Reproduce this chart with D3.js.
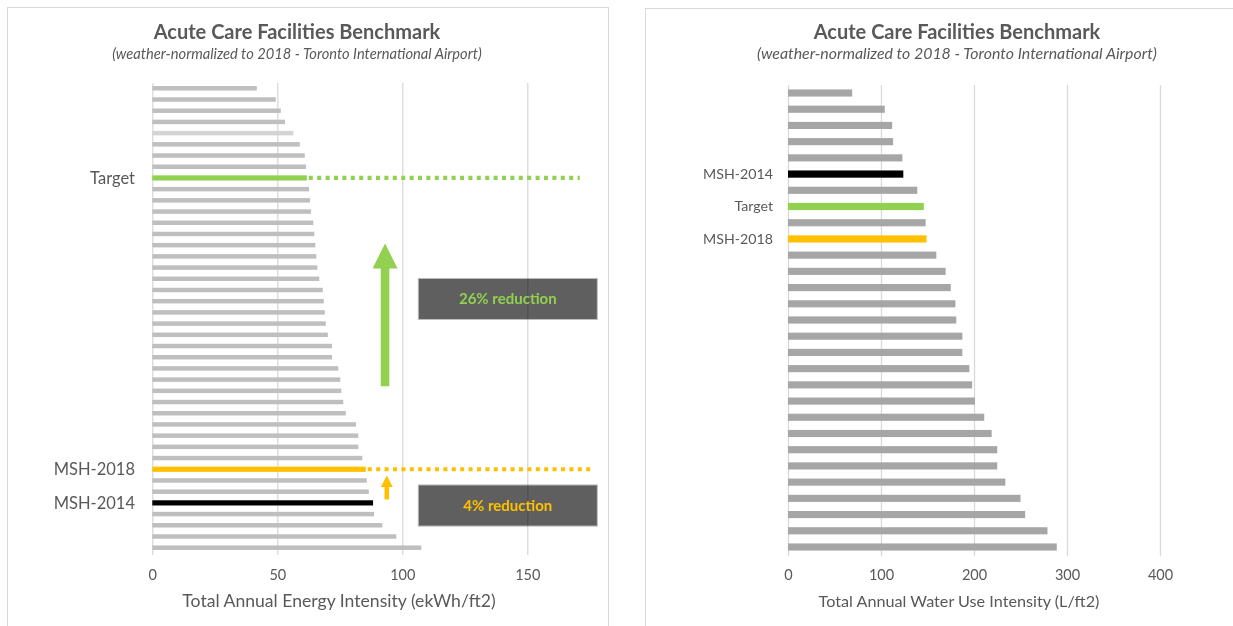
<!DOCTYPE html>
<html>
<head>
<meta charset="utf-8">
<script src="https://cdn.jsdelivr.net/npm/d3@7"></script>
<style>
  html, body { margin: 0; padding: 0; background: #ffffff; }
  svg { display: block; font-family: Lato, "Open Sans", sans-serif; }
</style>
</head>
<body>
<svg id="chart" width="1233" height="626"></svg>
<script>
// ---- Energy benchmark (left panel) ----
const energyLabels = ["", "", "", "", "", "", "", "", "Target", "", "", "", "", "", "", "", "", "", "", "", "",
  "", "", "", "", "", "", "", "", "", "", "", "", "", "MSH-2018", "", "", "MSH-2014", "", "", "", ""];
const energyValues = [41.8, 49.4, 51.4, 53.1, 56.4, 59.0, 61.0, 61.5, 61.8, 62.7, 63.1, 63.5, 64.4, 64.8,
  65.2, 65.6, 66.0, 66.8, 68.2, 68.6, 69.0, 69.4, 70.2, 71.9, 71.9, 74.4, 75.2, 75.6, 76.4, 77.4,
  81.5, 82.4, 82.4, 84.0, 85.4, 85.8, 86.6, 88.3, 88.7, 92.0, 97.6, 107.6];
const energyTicks = [0, 50, 100, 150];
const energyTitle = "Total Annual Energy Intensity (ekWh/ft2)";

// ---- Water benchmark (right panel) ----
const waterLabels = ["", "", "", "", "", "MSH-2014", "", "Target", "", "MSH-2018", "", "", "", "", "", "",
  "", "", "", "", "", "", "", "", "", "", "", "", ""];
const waterValues = [69, 104, 112, 113, 123, 124, 139, 146, 148, 149, 159.5, 169.5, 175, 180, 181,
  187.5, 187.5, 195, 198, 201, 211, 219, 225, 225, 233.7, 250, 255, 279, 289];
const waterTicks = [0, 100, 200, 300, 400];
const waterTitle = "Total Annual Water Use Intensity (L/ft2)";

const chartTitle = "Acute Care Facilities Benchmark";
const chartSubtitle = "(weather-normalized to 2018 - Toronto International Airport)";

// Reduction callouts on the energy chart
const reductions = [
  { text: "26% reduction", color: "#92d050" },
  { text: "4% reduction", color: "#ffc000" }
];

const highlight = { "Target": "#92d050", "MSH-2018": "#ffc000", "MSH-2014": "#000000" };
const textColor = "#595959";
const gridColor = "#d9d9d9";

const svg = d3.select("#chart");

// Panel frames
svg.append("rect").attr("x", 7.5).attr("y", 7.5).attr("width", 601).attr("height", 700)
  .attr("fill", "none").attr("stroke", gridColor);
svg.append("rect").attr("x", 645.5).attr("y", 8.5).attr("width", 700).attr("height", 700)
  .attr("fill", "none").attr("stroke", gridColor);

function titles(cx, subSize) {
  svg.append("text").attr("x", cx).attr("y", 38.5).attr("text-anchor", "middle")
    .attr("font-size", 20).attr("font-weight", "bold").attr("fill", textColor).text(chartTitle);
  svg.append("text").attr("x", cx).attr("y", 59).attr("text-anchor", "middle")
    .attr("font-size", subSize).attr("font-style", "italic").attr("fill", textColor).text(chartSubtitle);
}

function drawPanel(opt) {
  const idx = d3.range(opt.values.length);
  const x = d3.scaleLinear().domain(opt.domain).range(opt.xRange);
  const y = d3.scaleBand().domain(idx).range(opt.yRange).paddingInner(opt.padding).paddingOuter(opt.padding / 2);
  const centre = i => y(i) + y.bandwidth() / 2;
  const g = svg.append("g");

  const layers = {
    under: g.append("g"),
    grid: g.append("g"),
    bars: g.append("g"),
    over: g.append("g")
  };

  // Vertical gridlines (multiplied so they stay visible over the callout boxes)
  const gridAxis = d3.axisBottom(x).tickValues(opt.ticks).tickSize(-(opt.gridBottom - opt.gridTop)).tickFormat("");
  layers.grid.attr("transform", `translate(0,${opt.gridBottom})`).call(gridAxis)
    .call(s => s.select(".domain").remove())
    .call(s => s.selectAll(".tick line").attr("stroke", gridColor).attr("stroke-width", 1.3)
      .style("mix-blend-mode", "multiply"));

  // Tick labels
  const tickAxis = d3.axisBottom(x).tickValues(opt.ticks).tickSize(0).tickPadding(0);
  g.append("g").attr("transform", `translate(0,${opt.tickY})`).call(tickAxis)
    .call(s => s.select(".domain").remove())
    .call(s => s.selectAll("text").attr("font-size", 14.5).attr("fill", textColor)
      .attr("font-family", "Lato, sans-serif"));

  // Axis title
  g.append("text").attr("x", opt.titleX).attr("y", opt.axisTitleY).attr("text-anchor", "middle")
    .attr("font-size", opt.axisTitleSize).attr("fill", textColor).text(opt.axisTitle);

  // Bars
  layers.bars.selectAll("rect").data(idx).join("rect")
    .attr("x", x(0))
    .attr("width", i => x(opt.values[i]) - x(0))
    .attr("y", i => {
      const h = highlight[opt.labels[i]] ? opt.hiHeight : y.bandwidth();
      return centre(i) - h / 2;
    })
    .attr("height", i => highlight[opt.labels[i]] ? opt.hiHeight : y.bandwidth())
    .attr("fill", i => highlight[opt.labels[i]] || (opt.lightIndex === i ? opt.lightGrey : opt.grey));

  // Category labels for the highlighted facilities
  g.append("g").selectAll("text").data(idx.filter(i => opt.labels[i] !== "")).join("text")
    .attr("x", opt.labelX).attr("y", i => centre(i)).attr("dy", "0.35em")
    .attr("text-anchor", "end").attr("font-size", opt.labelSize).attr("fill", textColor)
    .text(i => opt.labels[i]);

  return { x, y, centre, layers };
}

// ---- Left: energy ----
titles(297, 14.7);
const energy = drawPanel({
  values: energyValues, labels: energyLabels, ticks: energyTicks,
  domain: [0, 150], xRange: [152.3, 527.3],
  yRange: [82.7, 553.3], padding: 0.6, hiHeight: 5.2,
  gridTop: 83, gridBottom: 555,
  tickY: 569.5, axisTitleY: 606.5, titleX: 339, axisTitle: energyTitle, axisTitleSize: 17.6,
  labelX: 135, labelSize: 16.5,
  grey: "#bfbfbf", lightGrey: "#d4d4d4", lightIndex: 4
});

// Dotted guide lines running out from the target and the 2018 result
const guideEnd = { "Target": 171, "MSH-2018": 176 };
Object.keys(guideEnd).forEach(name => {
  const i = energyLabels.indexOf(name);
  energy.layers.over.append("line")
    .attr("x1", energy.x(energyValues[i]) + 2).attr("x2", energy.x(guideEnd[name]))
    .attr("y1", energy.centre(i)).attr("y2", energy.centre(i))
    .attr("stroke", highlight[name]).attr("stroke-width", 4.2)
    .attr("stroke-dasharray", "4,4.4");
});

// Row positions (fractional bar index -> pixel) for arrows and callout boxes
const rowPos = d3.scaleLinear().domain([0, energyValues.length - 1])
  .range([energy.centre(0), energy.centre(energyValues.length - 1)]);

const arrowSpec = [
  { color: "#92d050", xv: 93.1, tail: 26.6, tip: 13.85, head: 25, shaft: 8.6, headW: 25 },
  { color: "#ffc000", xv: 93.8, tail: 36.7, tip: 34.55, head: 11.5, shaft: 4.6, headW: 12 }
];
arrowSpec.forEach(a => {
  const cx = energy.x(a.xv);
  const yTail = rowPos(a.tail), yTip = rowPos(a.tip);
  const yBase = yTip + a.head;
  const path = d3.path();
  path.moveTo(cx - a.shaft / 2, yTail);
  path.lineTo(cx - a.shaft / 2, yBase);
  path.lineTo(cx - a.headW / 2, yBase);
  path.lineTo(cx, yTip);
  path.lineTo(cx + a.headW / 2, yBase);
  path.lineTo(cx + a.shaft / 2, yBase);
  path.lineTo(cx + a.shaft / 2, yTail);
  path.closePath();
  energy.layers.over.append("path").attr("d", path.toString()).attr("fill", a.color);
});

// Callout boxes
const boxRows = [[16.97, 20.63], [35.4, 39.07]];
reductions.forEach((r, k) => {
  const x0 = energy.x(106.4), x1 = energy.x(178);
  const y0 = rowPos(boxRows[k][0]), y1 = rowPos(boxRows[k][1]);
  energy.layers.under.append("rect")
    .attr("x", x0).attr("y", y0).attr("width", x1 - x0).attr("height", y1 - y0)
    .attr("fill", "#5f5f5f").attr("stroke", "#bdbdbd").attr("stroke-width", 1);
  energy.layers.over.append("text")
    .attr("x", (x0 + x1) / 2).attr("y", (y0 + y1) / 2).attr("dy", "0.35em")
    .attr("text-anchor", "middle").attr("font-size", 15).attr("font-weight", "bold")
    .attr("fill", r.color).text(r.text);
});

// ---- Right: water ----
titles(957, 15.9);
drawPanel({
  values: waterValues, labels: waterLabels, ticks: waterTicks,
  domain: [0, 400], xRange: [788, 1160],
  yRange: [84.9, 555.1], padding: 0.56, hiHeight: 7.2,
  gridTop: 85, gridBottom: 556,
  tickY: 569.5, axisTitleY: 606.5, titleX: 959, axisTitle: waterTitle, axisTitleSize: 16.2,
  labelX: 773, labelSize: 14.2,
  grey: "#a6a6a6", lightGrey: "#a6a6a6", lightIndex: -1
});
</script>
</body>
</html>
